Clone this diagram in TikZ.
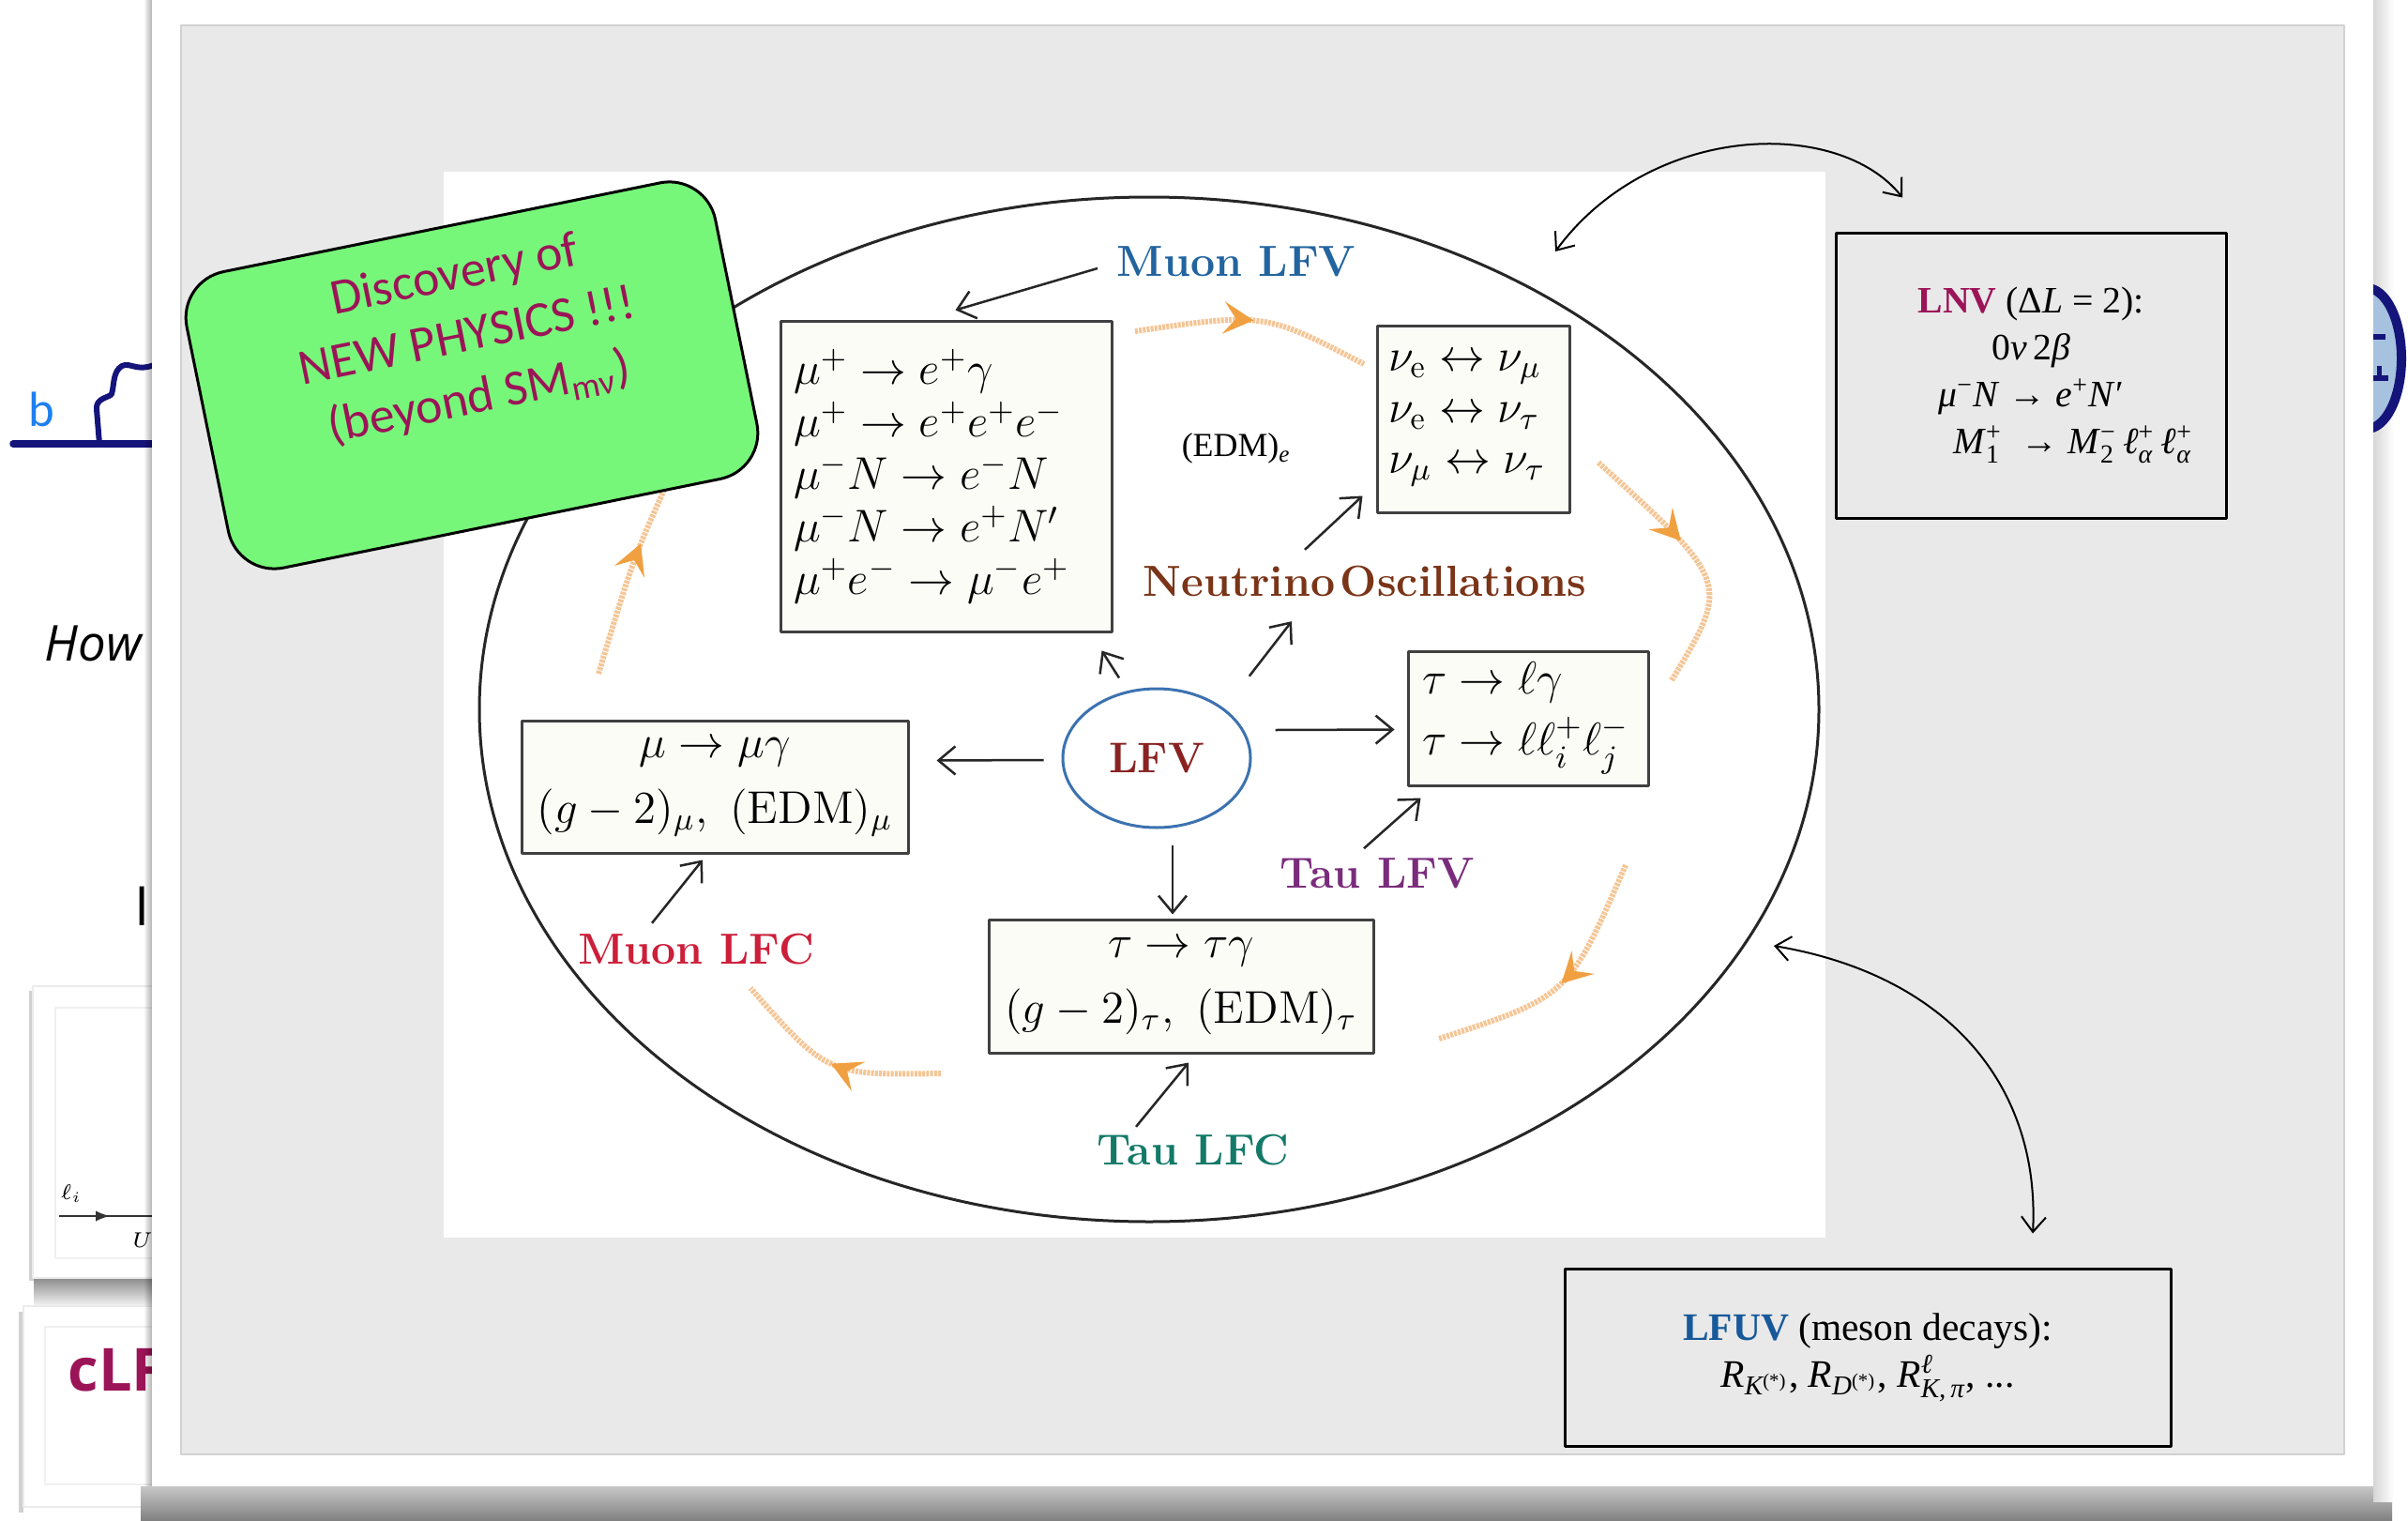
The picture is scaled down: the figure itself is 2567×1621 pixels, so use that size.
\RequirePackage{fix-cm}
\documentclass[tikz,border=0pt]{standalone}
\usepackage{amsmath}
\usepackage{fontspec}
\newfontfamily\tms{Liberation Serif}
\newfontfamily\handfont{Carlito}
\newfontfamily\slidefont{Open Sans}
\usetikzlibrary{shapes.geometric,arrows.meta,calc,decorations.markings}

\definecolor{panelgrey}{HTML}{E9E9E9}
\definecolor{boxcream}{HTML}{FCFCF7}
\definecolor{muonblue}{HTML}{22649F}
\definecolor{nubrown}{HTML}{7A3418}
\definecolor{lfvred}{HTML}{8A2222}
\definecolor{taupurple}{HTML}{7A2C7C}
\definecolor{muonred}{HTML}{CC1F3A}
\definecolor{tauteal}{HTML}{137A68}
\definecolor{lfvring}{HTML}{3C72B0}
\definecolor{arcorange}{HTML}{F5C595}
\definecolor{tiporange}{HTML}{F0A040}
\definecolor{npgreen}{HTML}{77F77A}
\definecolor{npmagenta}{HTML}{9C1458}
\definecolor{lfuvblue}{HTML}{17599A}
\definecolor{slidenavy}{HTML}{14147A}
\definecolor{slideblue}{HTML}{1E80F0}
\definecolor{slidelight}{HTML}{A6C2DE}

\newcommand{\ssb}[2]{$^{\text{#1}}_{\text{#2}}$}

\begin{document}
\begin{tikzpicture}[x=0.1mm,y=-0.1mm,>={Straight Barb[length=1.8mm,width=3mm]},line join=round,
  procbox/.style={draw=black!75,line width=0.3mm,fill=boxcream,inner sep=0pt},
  catlabel/.style={inner sep=0.5mm,font=\bfseries\fontsize{13.2}{14}\selectfont},
  feed/.style={->,line width=0.25mm,black!85},
  cyclearc/.style={draw=arcorange,line width=0.6mm,dash pattern=on 0.3mm off 0.12mm,
    postaction={decorate},decoration={markings,mark=at position #1 with
    {\arrow[tiporange]{Stealth[length=3.2mm,width=3.4mm,inset=1.3mm]}}}},
  cyclearc/.default=0.5,
  extbox/.style={draw=black,line width=0.3mm,inner sep=0pt,align=center},
  farlink/.style={<->,line width=0.2mm,>={Straight Barb[length=1.6mm,width=2.6mm]}}]
\useasboundingbox (0,0) rectangle (2567,1621);
\fill[white] (0,0) rectangle (2567,1621);
%% slide underneath
\node[font=\handfont\fontsize{15}{15}\selectfont,text=slideblue] (bq) at (44,436) {b};
\draw[slidenavy,line width=0.75mm,line cap=round] (14,473) -- (175,473);
\draw[slidenavy,line width=0.6mm] (106,473) -- (103,436) .. controls (102,424) and (116,424) .. (119,420)
  .. controls (122,410) and (120,396) .. (130,390) .. controls (140,385) and (147,400) .. (175,384);
\node[anchor=west,inner sep=0pt,font=\slidefont\itshape\fontsize{15}{16}\selectfont] (how) at (47,686) {How};
\node[anchor=west,inner sep=0pt,font=\slidefont\fontsize{16.5}{17}\selectfont] (ii) at (143,966) {I};
\shade[top color=black!45,bottom color=white] (36,1362) rectangle (175,1395);
\fill[black!18] (31,1056) rectangle (36,1365);
\filldraw[fill=white,draw=black!8] (35,1051) rectangle (175,1362);
\draw[black!6] (59,1074) rectangle (175,1341);
\node[font=\fontsize{6.5}{7}\selectfont] (elli) at (76,1272) {$\ell_i$};
\node[font=\fontsize{6.5}{7}\selectfont] (uu) at (152,1322) {$U$};
\draw[line width=0.15mm,black!80,postaction={decorate},decoration={markings,mark=at position 0.5 with {\arrow{Latex[length=1.5mm]}}}] (63,1296) -- (171,1296);
\fill[black!18] (20,1398) rectangle (25,1612);
\filldraw[fill=white,draw=black!8] (25,1392) rectangle (175,1606);
\draw[black!6] (48,1414) rectangle (175,1582);
\node[anchor=west,inner sep=0pt,font=\slidefont\bfseries\fontsize{18}{18}\selectfont,text=npmagenta] (clf) at (72,1460) {cLF};
%% front panel
\foreach \s in {0,...,8}
  \fill[black,opacity=0.035] (154+\s,0) rectangle (163,1621);
\shade[top color=black!22,bottom color=black!50] (150,1584) rectangle (2550,1621);
\shade[left color=black!16,right color=white] (2530,0) rectangle (2552,1600);
\fill[white] (162,0) rectangle (2530,1584);
\begin{scope}
  \clip (2530,280) rectangle (2567,480);
  \filldraw[fill=slidelight,draw=slidenavy,line width=1mm] (2523,382) ellipse [x radius=3.7mm,y radius=7.5mm];
  \fill[slidenavy] (2530,356) rectangle (2543,362);
  \fill[slidenavy] (2530,400) rectangle (2546,406);
  \fill[slidenavy] (2534,390) rectangle (2539,406);
\end{scope}
\filldraw[fill=panelgrey,draw=black!18] (193,27) rectangle (2499,1550);
\fill[white] (473,183) rectangle (1946,1319);
%% the LFV map
\node[ellipse,draw=black!85,line width=0.3mm,minimum width=142.8mm,minimum height=109.2mm,inner sep=0pt] (domain) at (1225,756) {};
\draw[cyclearc] (1210,353) .. controls (1348,333) .. (1454,388);
\draw[cyclearc=0.42] (1704,493) .. controls (1845,621) .. (1782,725);
\draw[cyclearc] (1733,922) .. controls (1672,1062) .. (1534,1107);
\draw[cyclearc] (1003,1144) .. controls (882,1146) .. (800,1053);
\draw[cyclearc=0.7] (638,718) .. controls (675,596) .. (708,522);
%
\node[procbox,minimum width=35.3mm,minimum height=33.1mm,text width=32.5mm,align=left,
  font=\fontsize{13.9}{15.9}\selectfont] (muonbox) at (1008.5,507.5)
  {$\mu^+ \to e^+\gamma$\\ $\mu^+ \to e^+e^+e^-$\\ $\mu^-N \to e^-N$\\ $\mu^-N \to e^+N'$\\ $\mu^+e^- \to \mu^-e^+$};
\node[procbox,minimum width=20.5mm,minimum height=19.9mm,text width=18.1mm,align=left,
  font=\fontsize{13.9}{15.5}\selectfont] (nubox) at (1570.5,446.5)
  {$\nu_{\mathrm{e}} \leftrightarrow \nu_\mu$\\ $\nu_{\mathrm{e}} \leftrightarrow \nu_\tau$\\ $\nu_\mu \leftrightarrow \nu_\tau$};
\node[procbox,minimum width=25.6mm,minimum height=14.3mm,text width=22.6mm,align=left,
  font=\fontsize{13.9}{18.5}\selectfont] (taubox) at (1629,765.5)
  {$\tau \to \ell\gamma$\\ $\tau \to \ell\ell_i^+\ell_j^-$};
\node[procbox,minimum width=41.2mm,minimum height=14.1mm,align=center,
  font=\fontsize{13.9}{19.9}\selectfont] (mlfcbox) at (762,838.5)
  {$\mu \to \mu\gamma$\\ $(g-2)_\mu,\ (\mathrm{EDM})_\mu$};
\node[procbox,minimum width=41mm,minimum height=14.2mm,align=center,
  font=\fontsize{13.9}{19.9}\selectfont] (tlfcbox) at (1259,1051)
  {$\tau \to \tau\gamma$\\ $(g-2)_\tau,\ (\mathrm{EDM})_\tau$};
\node[ellipse,draw=lfvring,line width=0.3mm,minimum width=20mm,minimum height=14.8mm,inner sep=0pt,
  text=lfvred,font=\bfseries\fontsize{13}{14}\selectfont] (lfv) at (1233,808) {LFV};
\node[font=\tms\fontsize{10.2}{12}\selectfont] (edm) at (1318,478) {(EDM)\textsubscript{\textit{e}}};
%
\node[catlabel,text=muonblue] (muonlfv) at (1318,279) {Muon LFV};
\node[catlabel,text=nubrown] (nuosc) at (1455,620) {Neutrino\hspace{0.12em}Oscillations};
\node[catlabel,text=taupurple] (taulfv) at (1468,931) {Tau LFV};
\node[catlabel,text=muonred] (muonlfc) at (742,1012) {Muon LFC};
\node[catlabel,text=tauteal] (taulfc) at (1272,1226) {Tau LFC};
%
\draw[feed] ($(muonlfv.west)+(-15,7)$) -- ($(muonbox.north)+(10,-10)$);
\draw[feed] ($(lfv.north)+(-40,-10)$) -- ($(muonbox.south east)+(-12,19)$);
\draw[feed] ($(lfv.north east)+(27,-34)$) -- ($(nuosc.south)+(-78,20)$);
\draw[feed] ($(nuosc.north)+(-64,-12)$) -- ($(nubox.south west)+(-14,-19)$);
\draw[feed] ($(lfv.east)+(25,-30)$) -- ($(taubox.west)+(-13,12)$);
\draw[feed] ($(lfv.west)+(-19,2)$) -- ($(mlfcbox.east)+(29,-28)$);
\draw[feed] ($(lfv.south)+(17,17)$) -- ($(tlfcbox.north)+(-9,-4)$);
\draw[feed] ($(taulfv.north)+(-14,-5)$) -- ($(taubox.south west)+(15,12)$);
\draw[feed] ($(muonlfc.north)+(-47,-6)$) -- ($(mlfcbox.south)+(-13,6)$);
\draw[feed] ($(taulfc.north)+(-61,-3)$) -- ($(tlfcbox.south)+(8,9)$);
%% outside the map
\node[extbox,minimum width=41.6mm,minimum height=30.4mm,font=\tms\fontsize{11.3}{14.2}\selectfont] (lnvbox) at (2165,400)
  {{\bfseries\color{npmagenta}LNV} (Δ\textit{L} = 2):\\
   0\textit{ν}\,2\textit{β}\\
   \textit{μ}\textsuperscript{−}\textit{N} → \textit{e}\textsuperscript{+}\textit{N}′\\
   \hspace*{9mm}\textit{M}\ssb{+}{\upshape 1}\ \ → \textit{M}\ssb{−}{\upshape 2}\,\textit{ℓ}\ssb{+}{\itshape α}\,\textit{ℓ}\ssb{+}{\itshape α}};
\node[extbox,minimum width=64.6mm,minimum height=18.9mm,font=\tms\fontsize{11.8}{14.2}\selectfont] (lfuvbox) at (1991,1446.5)
  {{\bfseries\color{lfuvblue}LFUV} (meson decays):\\
   \textit{R}$_{\text{\itshape K}^{\text{\upshape(*)}}}$, \textit{R}$_{\text{\itshape D}^{\text{\upshape(*)}}}$, \textit{R}\ssb{\itshape ℓ}{\itshape K,\,π}, ...};
\coordinate (lnvtip) at (1658,268);
\coordinate (lfuvtip) at (1891,1008);
\draw[farlink] (lnvtip) .. controls (1760,130) and (1960,125) .. ($(lnvbox.north)+(-137,-36)$);
\draw[farlink] (lfuvtip) .. controls (2080,1040) and (2175,1160) .. ($(lfuvbox.north)+(176,-36)$);
%% sticker on top
\node[draw=black,line width=0.3mm,fill=npgreen,rounded corners=5mm,minimum width=57.5mm,minimum height=32.2mm,rotate=11.5] (npbox) at (503,400) {};
\node[rotate=11.5,align=center,text=npmagenta,font=\handfont\fontsize{15.3}{19}\selectfont] (nptext) at (498,360)
  {Discovery of\\NEW PHYSICS !!!\\(beyond SM\textsubscript{mν})};
\end{tikzpicture}
\end{document}
